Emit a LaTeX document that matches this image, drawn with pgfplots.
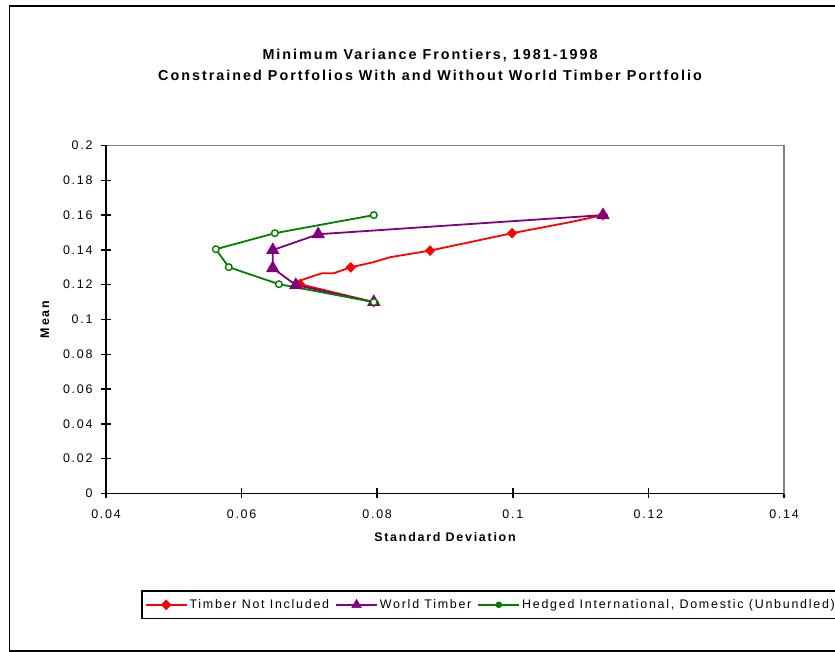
\documentclass[border=0pt]{standalone}
\usepackage{fontspec}
\setmainfont{Liberation Sans}[LetterSpace=14]
\usepackage{pgfplots}
\pgfplotsset{compat=1.18}

\definecolor{xlred}{RGB}{255,0,0}
\definecolor{xlpurple}{RGB}{128,0,128}
\definecolor{xlgreen}{RGB}{0,128,0}
\definecolor{xlgray}{RGB}{128,128,128}

\begin{document}
\begin{tikzpicture}
\useasboundingbox (0,0) rectangle (835bp,652bp);
\clip (0,0) rectangle (835bp,652bp);
\fill[white] (0,0) rectangle (835bp,652bp);
% outer chart frame, cut at the right edge as in the original
\draw[line width=1.5bp] (9.5bp,1bp) rectangle (850bp,646bp);

\node[font=\bfseries\fontsize{14.4}{17}\selectfont] at (430bp,597bp) {Minimum Variance Frontiers, 1981-1998};
\node[font=\bfseries\fontsize{14.4}{17}\selectfont] at (430bp,577bp) {Constrained Portfolios With and Without World Timber Portfolio};

\begin{axis}[
    at={(106bp,158.5bp)}, anchor=south west,
    scale only axis,
    width=678bp, height=348bp,
    xmin=0.04, xmax=0.14,
    ymin=0, ymax=0.2,
    xtick={0.04,0.06,0.08,0.1,0.12,0.14},
    xticklabels={0.04,0.06,0.08,0.1,0.12,0.14},
    ytick={0,0.02,0.04,0.06,0.08,0.1,0.12,0.14,0.16,0.18,0.2},
    yticklabels={0,0.02,0.04,0.06,0.08,0.1,0.12,0.14,0.16,0.18,0.2},
    xtick pos=bottom, ytick pos=left,
    tick align=center,
    major tick length=10bp,
    tick style={black, line width=1.5bp},
    axis line style={draw=xlgray, line width=1.6bp},
    ticklabel style={font=\fontsize{12.5}{14}\selectfont},
    xticklabel style={yshift=-8bp},
    yticklabel style={xshift=-5bp},
    xlabel={Standard Deviation},
    ylabel={Mean},
    label style={font=\bfseries\fontsize{12.5}{15}\selectfont},
    xlabel style={at={(axis description cs:0.5,-0.125)}, anchor=center},
    ylabel style={at={(axis description cs:-0.09,0.5)}, anchor=center},
    legend columns=3,
    legend cell align=left,
    legend style={at={(0.0516,-0.278)}, anchor=north west,
        draw=black, line width=1.6bp,
        font=\fontsize{12.5}{14}\selectfont,
        inner xsep=3bp, inner ysep=6.5bp,
        /tikz/every even column/.append style={column sep=4bp}},
    legend image code/.code={%
        \draw[mark repeat=2, mark phase=2, #1, line width=1.8bp]
            plot coordinates {(0bp,0bp) (20.5bp,0bp) (41bp,0bp)};},
    after end axis/.code={%
        \draw[black, line width=1.6bp] (rel axis cs:0,1) -- (rel axis cs:0,0) -- (rel axis cs:1,0);},
]

% Timber Not Included: line through every point, markers on the main ones
\addplot[xlred, line width=1.8bp, forget plot] coordinates {
    (0.0795,0.110) (0.0686,0.1203) (0.0688,0.1226) (0.0705,0.1249)
    (0.0719,0.1266) (0.0736,0.1266) (0.0761,0.1300) (0.0794,0.1329)
    (0.0819,0.1358) (0.0878,0.1396) (0.0999,0.1496) (0.1084,0.1559)
    (0.1133,0.1600)
};
\addplot[xlred, only marks, mark=diamond*, mark size=5bp,
    mark options={xscale=1.3}, forget plot] coordinates {
    (0.0795,0.110) (0.0686,0.1203) (0.0761,0.1300) (0.0878,0.1396)
    (0.0999,0.1496) (0.1133,0.1600)
};

% World Timber
\addplot[xlpurple, line width=1.8bp, mark=triangle*, mark size=6bp, forget plot] coordinates {
    (0.1133,0.1600) (0.0713,0.1490) (0.0646,0.1399) (0.0646,0.1295)
    (0.0680,0.1198) (0.0795,0.1100)
};

% Hedged International, Domestic (Unbundled)
\addplot[xlgreen, line width=1.8bp, mark=*, mark size=3.3bp,
    mark options={fill=white, line width=1.4bp}, forget plot] coordinates {
    (0.0795,0.1600) (0.0649,0.1496) (0.0562,0.1404) (0.0581,0.1301)
    (0.0655,0.1203) (0.0795,0.1100)
};

\addlegendimage{xlred, mark=diamond*, mark size=5bp, mark options={xscale=1.3, line width=0.5bp}}
\addlegendentry{Timber Not Included}
\addlegendimage{xlpurple, mark=triangle*, mark size=5.5bp, mark options={line width=0.5bp}}
\addlegendentry{World Timber}
\addlegendimage{xlgreen, mark=*, mark size=3bp, mark options={line width=0.5bp}}
\addlegendentry{Hedged International, Domestic (Unbundled)}
\end{axis}
\end{tikzpicture}
\end{document}
